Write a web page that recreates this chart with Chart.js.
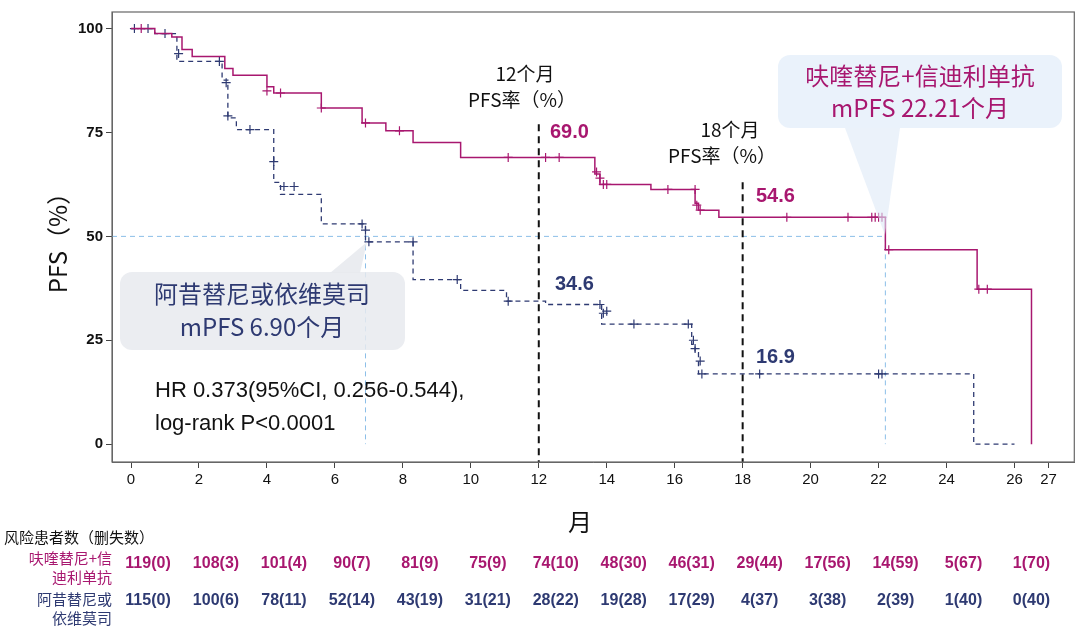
<!DOCTYPE html>
<html><head><meta charset="utf-8">
<script src="https://cdn.jsdelivr.net/npm/chart.js@4"></script>
<style>body{margin:0;background:#fff}#wrap{width:1080px;height:630px}</style>
</head><body><div id="wrap"><canvas id="km"></canvas></div>
<script>
'use strict';
const MAG = '#a8176f', NAVY = '#2e3a72', CJK = "'Noto Sans CJK SC', 'Noto Sans', sans-serif";

// KM step points: [month, PFS%]
const fruqSteps = [[0,100],[0.7,98.8],[1.2,98],[1.5,95],[1.8,93.3],[2.76,90.4],[3.0,88.8],[4.0,86],[4.2,84.5],
  [5.6,80.9],[6.8,77.3],[7.5,75.4],[8.3,72.6],[9.7,69.0],[13.65,65],[13.8,62.5],[15.3,61.3],[16.6,58],[16.7,56.3],
  [17.3,54.6],[22.2,46.8],[24.9,37.3],[26.5,0]];
const ctrlSteps = [[0,100],[0.7,98.8],[1.35,92.1],[2.68,87.6],[2.85,78.5],[3.1,75.7],[4.2,63],[4.4,60.1],
  [5.6,53],[6.9,48.7],[8.3,39.6],[9.7,37],[11.05,34.4],[12.2,33.6],[13.85,28.9],[16.5,24],[16.6,22],[16.7,16.9],
  [24.8,0],[26.0,0]];
const fruqCens = [[0.3,100],[4.0,85],[4.4,84.5],[5.6,80.9],[6.9,77.3],[7.9,75.4],[11.1,69],[12.2,69],[12.6,69],
  [13.7,65.5],[13.8,64],[13.9,62.5],[14.0,62.5],[15.8,61.3],[16.6,61.3],[16.65,57.5],[16.75,56.3],[19.3,54.6],
  [21.1,54.6],[21.8,54.6],[21.9,54.6],[22.0,54.6],[22.1,54.6],[22.3,46.8],[24.95,37.3],[25.2,37.3]];
const ctrlCens = [[0.1,100],[0.5,100],[1.0,98.8],[1.4,94],[2.6,92.1],[2.8,87],[2.85,79],[3.5,75.7],[4.2,68],
  [4.5,62],[4.8,62],[6.8,53],[6.9,51.5],[7.0,48.7],[8.3,48.7],[9.6,39.6],[11.1,34.4],[13.8,33.6],[13.9,31.5],
  [14.0,32],[14.8,28.9],[16.4,28.9],[16.55,25],[16.6,23],[16.75,20],[16.8,16.9],[18.5,16.9],[22.0,16.9],[22.1,16.9]];
const yTicks = [0,25,50,75,100];
const xTicks = [0,2,4,6,8,10,12,14,16,18,20,22,24,26,27];
const riskMonths = [0,2,4,6,8,10,12,14,16,18,20,22,24,26];
const riskFruq = ['119(0)','108(3)','101(4)','90(7)','81(9)','75(9)','74(10)','48(30)','46(31)','29(44)','17(56)','14(59)','5(67)','1(70)'];
const riskCtrl = ['115(0)','100(6)','78(11)','52(14)','43(19)','31(21)','28(22)','19(28)','17(29)','4(37)','3(38)','2(39)','1(40)','0(40)'];

const pts = a => a.map(([x, y]) => ({ x, y }));

function roundBox(ctx, x, y, w, h, r, fill) {
  ctx.beginPath(); ctx.roundRect(x, y, w, h, r); ctx.fillStyle = fill; ctx.fill();
}

const decor = {
  id: 'decor',
  beforeDatasetsDraw(chart) {
    const { ctx, scales: { x, y } } = chart;
    ctx.save();
    ctx.setLineDash([5, 4]); ctx.lineWidth = 1; ctx.strokeStyle = '#8bbfe8';
    ctx.beginPath();
    ctx.moveTo(chart.chartArea.left, y.getPixelForValue(50)); ctx.lineTo(x.getPixelForValue(22.2), y.getPixelForValue(50));
    ctx.moveTo(x.getPixelForValue(6.9), y.getPixelForValue(50)); ctx.lineTo(x.getPixelForValue(6.9), y.getPixelForValue(0));
    ctx.moveTo(x.getPixelForValue(22.2), y.getPixelForValue(50)); ctx.lineTo(x.getPixelForValue(22.2), y.getPixelForValue(0));
    ctx.stroke();
    ctx.strokeStyle = '#111'; ctx.lineWidth = 2; ctx.setLineDash([7, 5]);
    ctx.beginPath();
    ctx.moveTo(x.getPixelForValue(12), y.getPixelForValue(77)); ctx.lineTo(x.getPixelForValue(12), y.getPixelForValue(-4.3));
    ctx.moveTo(x.getPixelForValue(18), y.getPixelForValue(63)); ctx.lineTo(x.getPixelForValue(18), y.getPixelForValue(-4.3));
    ctx.stroke();
    ctx.restore();
  },
  afterDraw(chart) {
    const { ctx, chartArea: a, scales: { x, y } } = chart;
    ctx.save();
    ctx.strokeStyle = '#666'; ctx.lineWidth = 1.2; ctx.strokeRect(a.left, a.top, a.right - a.left, a.bottom - a.top);

    // callouts
    ctx.fillStyle = 'rgba(222,234,246,0.6)';
    ctx.beginPath(); ctx.moveTo(845, 128); ctx.lineTo(885, 235); ctx.lineTo(900, 128); ctx.fill();
    roundBox(ctx, 778, 55, 284, 73, 12, 'rgba(230,240,250,0.85)');
    ctx.fillStyle = 'rgba(225,228,234,0.7)';
    ctx.beginPath(); ctx.moveTo(330, 273); ctx.lineTo(367, 242); ctx.lineTo(360, 273); ctx.fill();
    roundBox(ctx, 120, 272, 285, 78, 12, 'rgba(232,234,238,0.85)');

    ctx.textAlign = 'center'; ctx.textBaseline = 'middle';
    ctx.font = `24px ${CJK}`; ctx.fillStyle = MAG;
    ctx.fillText('呋喹替尼+信迪利单抗', 920, 76); ctx.fillText('mPFS 22.21个月', 920, 108);
    ctx.fillStyle = NAVY;
    ctx.fillText('阿昔替尼或依维莫司', 262, 294); ctx.fillText('mPFS 6.90个月', 262, 327);

    ctx.fillStyle = '#111'; ctx.font = `19px ${CJK}`;
    ctx.fillText('12个月', 525, 74); ctx.fillText('PFS率（%）', 522, 100);
    ctx.fillText('18个月', 730, 130); ctx.fillText('PFS率（%）', 722, 156);
    ctx.textAlign = 'left'; ctx.font = `22px 'Liberation Sans', Arial, sans-serif`;
    ctx.fillText('HR 0.373(95%CI, 0.256-0.544),', 155, 391); ctx.fillText('log-rank P<0.0001', 155, 424);

    ctx.font = `bold 20px 'Liberation Sans', Arial, sans-serif`;
    ctx.fillStyle = MAG; ctx.fillText('69.0', 550, 132); ctx.fillText('54.6', 756, 196);
    ctx.fillStyle = NAVY; ctx.fillText('34.6', 555, 284); ctx.fillText('16.9', 756, 357);

    ctx.textAlign = 'center'; ctx.fillStyle = '#111';
    ctx.font = `24px ${CJK}`; ctx.fillText('月', 580, 522);
    ctx.save(); ctx.translate(58, 237); ctx.rotate(-Math.PI / 2); ctx.fillText('PFS（%）', 0, 0); ctx.restore();

    // risk table
    ctx.font = `15px ${CJK}`; ctx.textAlign = 'left'; ctx.fillStyle = '#111';
    ctx.fillText('风险患者数（删失数）', 4, 537);
    ctx.textAlign = 'right';
    ctx.fillStyle = MAG; ctx.fillText('呋喹替尼+信', 112, 558); ctx.fillText('迪利单抗', 112, 577);
    ctx.fillStyle = NAVY; ctx.fillText('阿昔替尼或', 112, 599); ctx.fillText('依维莫司', 112, 618);
    ctx.textAlign = 'center'; ctx.font = `bold 16px 'Liberation Sans', Arial, sans-serif`;
    riskMonths.forEach((m, i) => {
      const px = x.getPixelForValue(m) + 17;
      ctx.fillStyle = MAG; ctx.fillText(riskFruq[i], px, 564);
      ctx.fillStyle = NAVY; ctx.fillText(riskCtrl[i], px, 601);
    });
    ctx.restore();
  },
};

const censorSet = (data, color) => ({
  type: 'scatter', data: pts(data), pointStyle: 'cross', pointRadius: 4.5, borderColor: color, borderWidth: 1.2, showLine: false,
});

new Chart(document.getElementById('km').getContext('2d'), {
  type: 'line',
  data: {
    datasets: [
      { data: pts(fruqSteps), stepped: 'before', borderColor: MAG, borderWidth: 1.5, pointRadius: 0, fill: false },
      { data: pts(ctrlSteps), stepped: 'before', borderColor: NAVY, borderWidth: 1.3, borderDash: [5, 4], pointRadius: 0, fill: false },
      censorSet(fruqCens, MAG),
      censorSet(ctrlCens, NAVY),
    ],
  },
  options: {
    responsive: true, maintainAspectRatio: false, animation: false,
    layout: { padding: { top: 8, right: 5, left: 0, bottom: 0 } },
    plugins: { legend: { display: false }, tooltip: { enabled: false } },
    scales: {
      x: {
        type: 'linear', min: -0.56, max: 27.76,
        afterBuildTicks: s => { s.ticks = xTicks.map(v => ({ value: v })); },
        afterFit: s => { s.height = 168; },
        grid: { drawOnChartArea: false, tickLength: 6, color: '#444' },
        border: { color: '#666' },
        ticks: { color: '#111', font: { size: 15, family: "'Liberation Sans', Arial" }, maxRotation: 0 },
      },
      y: {
        min: -4.3, max: 104,
        afterBuildTicks: s => { s.ticks = yTicks.map(v => ({ value: v })); },
        afterFit: s => { s.width = 112; },
        grid: { drawOnChartArea: false, tickLength: 6, color: '#444' },
        border: { color: '#666' },
        ticks: { color: '#111', font: { size: 15, weight: 'bold', family: "'Liberation Sans', Arial" } },
      },
    },
  },
  plugins: [decor],
});
</script></body></html>
